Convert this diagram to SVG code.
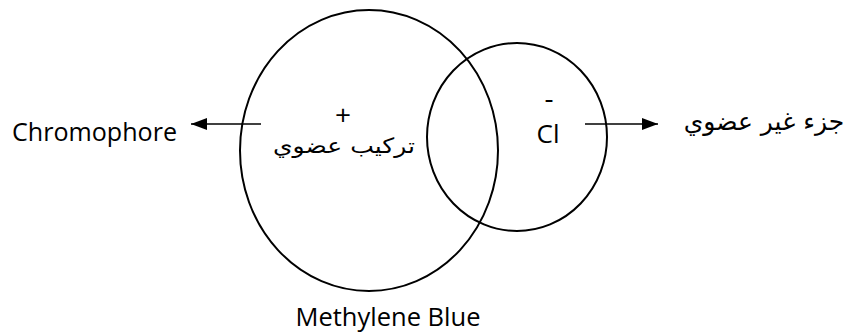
<svg xmlns="http://www.w3.org/2000/svg" width="851" height="333" viewBox="0 0 851 333">
<defs>
<style>
.shape{fill:none;stroke:#000;stroke-width:2}
.lat{font-family:"Open Sans","Noto Sans","DejaVu Sans",sans-serif;font-size:26px;fill:#000}
.ar{font-family:"DejaVu Sans","Noto Sans",sans-serif;font-size:21px;fill:#000}
.conn{stroke:#000;stroke-width:1.5;fill:none}
</style>
<marker id="arr" viewBox="0 0 16 12" refX="16" refY="6" markerWidth="16" markerHeight="12" markerUnits="userSpaceOnUse" orient="auto">
<path d="M0,0 L16,6 L0,12 z" fill="#000"/>
</marker>
</defs>
<rect width="851" height="333" fill="#fff"/>
<g id="organic">
<ellipse class="shape" cx="369" cy="150.5" rx="129" ry="140.5"/>
<text class="lat" x="343" y="125" text-anchor="middle" style="font-size:28px">+</text>
<text class="ar" x="344" y="153" text-anchor="middle" direction="rtl" textLength="142" lengthAdjust="spacingAndGlyphs">تركيب عضوي</text>
</g>
<g id="inorganic">
<ellipse class="shape" cx="517" cy="137" rx="90" ry="94"/>
<text class="lat" x="549" y="108" text-anchor="middle" style="font-size:28px">-</text>
<text class="lat" x="548" y="143" text-anchor="middle">Cl</text>
</g>
<g id="chromophore">
<text class="lat" x="12" y="141" textLength="165" lengthAdjust="spacingAndGlyphs">Chromophore</text>
</g>
<g id="inorganic-label">
<text class="ar" x="764" y="130" text-anchor="middle" direction="rtl" style="font-size:25px">جزء غير عضوي</text>
</g>
<g id="title">
<text class="lat" x="388" y="326" text-anchor="middle" textLength="185" lengthAdjust="spacingAndGlyphs">Methylene Blue</text>
</g>
<g id="connectors">
<line class="conn" x1="261" y1="124" x2="191" y2="124" marker-end="url(#arr)"/>
<line class="conn" x1="585" y1="124" x2="658" y2="124" marker-end="url(#arr)"/>
</g>
</svg>
